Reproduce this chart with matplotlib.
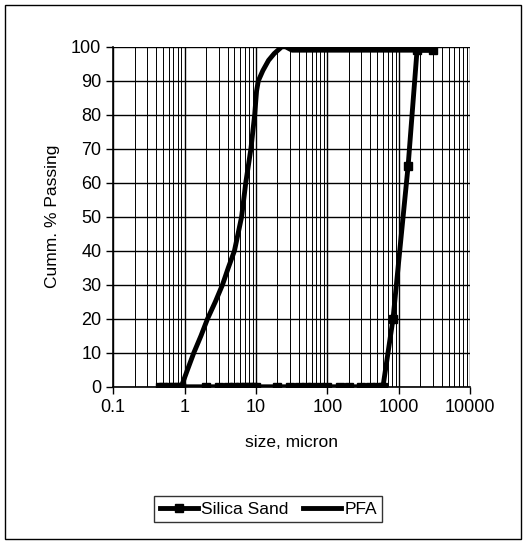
import matplotlib
matplotlib.use("Agg")
import matplotlib.pyplot as plt
from matplotlib.patches import Rectangle
from matplotlib.ticker import LogLocator, FixedLocator, NullFormatter

plt.rcParams["font.family"] = ["Liberation Sans", "DejaVu Sans"]

# Silica Sand: size (micron) vs cumulative % passing
sand_size = [0.45, 0.5, 0.6, 0.7, 0.8, 0.9, 2, 3, 4, 5, 6, 7, 8, 9, 10,
             20, 30, 40, 50, 60, 80, 100, 150, 200, 300, 400, 500, 600,
             830, 1350, 1800, 3000]
sand_pass = [0, 0, 0, 0, 0, 0, 0, 0, 0, 0, 0, 0, 0, 0, 0,
             0, 0, 0, 0, 0, 0, 0, 0, 0, 0, 0, 0, 0,
             20, 65, 99, 99]

# PFA
pfa_size = [0.9, 1.1, 1.35, 1.7, 2.1, 2.7, 3.4, 4.1, 5.0, 6.3, 7.2, 8.5,
            9.6, 10.2, 10.8, 12.5, 15, 18, 23, 26, 32, 3000]
pfa_pass = [0, 5, 10, 15, 20, 25, 30, 35, 40, 50, 60, 70,
            80, 87, 90, 93, 96, 98, 100, 100, 99, 99]

fig = plt.figure(figsize=(5.26, 5.44), dpi=100)
ax = fig.add_axes([0.215, 0.289, 0.679, 0.625])

ax.plot(sand_size, sand_pass, color="black", lw=3.5, marker="s", ms=6,
        label="Silica Sand", zorder=3)
ax.plot(pfa_size, pfa_pass, color="black", lw=3.5, label="PFA", zorder=3,
        solid_joinstyle="round")

ax.set_xscale("log")
ax.set_xlim(0.1, 10000)
ax.set_ylim(0, 100)
ax.xaxis.set_major_locator(FixedLocator([0.1, 1, 10, 100, 1000, 10000]))
ax.set_xticklabels(["0.1", "1", "10", "100", "1000", "10000"])
ax.xaxis.set_minor_locator(LogLocator(base=10, subs=range(2, 10), numticks=20))
ax.xaxis.set_minor_formatter(NullFormatter())
ax.set_yticks(range(0, 101, 10))

ax.grid(True, which="major", color="black", lw=1.0)
ax.grid(True, which="minor", axis="x", color="black", lw=0.7)
for side in ["top", "right"]:
    ax.spines[side].set_visible(False)
ax.spines["left"].set_linewidth(1.2)
ax.spines["bottom"].set_linewidth(1.2)
ax.tick_params(axis="both", which="major", labelsize=13, length=5, width=1)
ax.tick_params(axis="x", which="minor", length=0)

ax.set_xlabel("size, micron", fontsize=12.5, labelpad=14)
ax.set_ylabel("Cumm. % Passing", fontsize=12.5, labelpad=8)

fig.legend(loc="center", bbox_to_anchor=(0.51, 0.064), ncol=2, frameon=True,
           fancybox=False, edgecolor="black", fontsize=12.5, handlelength=2.2,
           handletextpad=0.2, columnspacing=0.8, borderpad=0.3)

fig.patches.append(Rectangle((0.01, 0.01), 0.98, 0.98, transform=fig.transFigure,
                             fill=False, edgecolor="black", lw=1))

fig.savefig("out.png", dpi=100)
